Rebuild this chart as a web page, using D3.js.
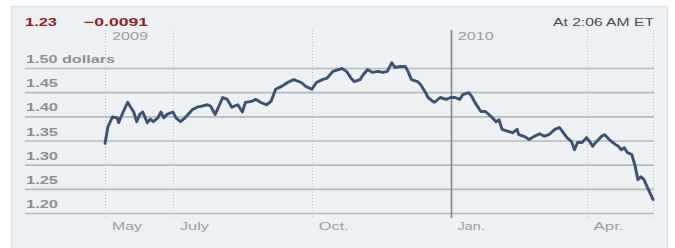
<!DOCTYPE html>
<html><head><meta charset="utf-8">
<script src="https://cdn.jsdelivr.net/npm/d3@7"></script>
<style>
html,body{margin:0;padding:0;background:#fff;}
svg{display:block;font-family:"Liberation Sans",Arial,sans-serif;}
</style></head>
<body><svg id="c" width="675" height="248"></svg>
<script>
const dates = ["2009-05-17","2009-05-19","2009-05-22","2009-05-25","2009-05-26","2009-05-29","2009-06-01","2009-06-03","2009-06-05","2009-06-07","2009-06-09","2009-06-11","2009-06-14","2009-06-16","2009-06-18","2009-06-21","2009-06-23","2009-06-25","2009-06-27","2009-07-01","2009-07-03","2009-07-06","2009-07-09","2009-07-11","2009-07-14","2009-07-17","2009-07-20","2009-07-24","2009-07-26","2009-07-28","2009-07-29","2009-08-03","2009-08-06","2009-08-09","2009-08-13","2009-08-16","2009-08-18","2009-08-22","2009-08-25","2009-08-28","2009-09-01","2009-09-04","2009-09-07","2009-09-11","2009-09-15","2009-09-19","2009-09-24","2009-09-27","2009-10-01","2009-10-04","2009-10-08","2009-10-11","2009-10-15","2009-10-21","2009-10-24","2009-10-27","2009-10-29","2009-11-02","2009-11-04","2009-11-07","2009-11-10","2009-11-14","2009-11-17","2009-11-20","2009-11-23","2009-11-25","2009-11-28","2009-12-02","2009-12-04","2009-12-06","2009-12-10","2009-12-12","2009-12-15","2009-12-17","2009-12-21","2009-12-22","2009-12-25","2009-12-29","2010-01-01","2010-01-04","2010-01-07","2010-01-09","2010-01-13","2010-01-15","2010-01-17","2010-01-21","2010-01-24","2010-01-28","2010-01-31","2010-02-02","2010-02-04","2010-02-08","2010-02-11","2010-02-14","2010-02-15","2010-02-19","2010-02-22","2010-02-25","2010-03-01","2010-03-04","2010-03-07","2010-03-11","2010-03-14","2010-03-16","2010-03-19","2010-03-22","2010-03-24","2010-03-26","2010-03-29","2010-04-01","2010-04-03","2010-04-05","2010-04-07","2010-04-11","2010-04-13","2010-04-16","2010-04-20","2010-04-22","2010-04-24","2010-04-26","2010-04-28","2010-05-01","2010-05-03","2010-05-05","2010-05-07","2010-05-09","2010-05-11","2010-05-15"];
const values = [1.345,1.38,1.40,1.398,1.388,1.41,1.43,1.42,1.41,1.39,1.405,1.41,1.388,1.395,1.39,1.398,1.41,1.398,1.405,1.41,1.398,1.39,1.398,1.405,1.415,1.42,1.422,1.425,1.422,1.41,1.405,1.44,1.436,1.42,1.425,1.41,1.43,1.432,1.436,1.43,1.425,1.432,1.457,1.463,1.471,1.477,1.471,1.463,1.457,1.471,1.477,1.48,1.494,1.50,1.494,1.48,1.473,1.477,1.487,1.498,1.492,1.494,1.492,1.494,1.512,1.502,1.504,1.504,1.492,1.477,1.473,1.467,1.452,1.44,1.43,1.432,1.44,1.436,1.44,1.44,1.436,1.446,1.45,1.442,1.43,1.411,1.411,1.40,1.39,1.394,1.374,1.37,1.367,1.374,1.363,1.359,1.353,1.359,1.365,1.36,1.363,1.374,1.378,1.37,1.357,1.349,1.332,1.347,1.347,1.357,1.349,1.339,1.347,1.36,1.363,1.353,1.343,1.339,1.332,1.336,1.326,1.322,1.30,1.27,1.276,1.27,1.256,1.229];

const yTicks = [1.50,1.45,1.40,1.35,1.30,1.25,1.20];
const yTickLabels = ["1.50 dollars","1.45","1.40","1.35","1.30","1.25","1.20"];
const xTickDates = ["2009-05-17","2009-07-01","2009-10-01","2010-01-01","2010-04-01","2010-05-15"];
const xTickLabels = ["May","July","Oct.","Jan.","Apr.",""];
const yearDates = ["2009-05-17","2010-01-01"];
const yearLabels = ["2009","2010"];
const lastValue = "1.23";
const change = "\u22120.0091";
const timestamp = "At 2:06 AM ET";

const parse = d3.timeParse("%Y-%m-%d");
const data = dates.map((d,i)=>({date:parse(d), value:values[i]}));

const svg = d3.select("#c");
const x = d3.scaleTime().domain([parse("2009-05-17"), parse("2010-05-15")]).range([105,653]);
const y = d3.scaleLinear().domain([1.20,1.50]).range([213.5,68.5]);

// panel
svg.append("rect").attr("x",11.5).attr("y",6.5).attr("width",656).attr("height",260)
  .attr("fill","#eef1f4").attr("stroke","#d9dde0").attr("stroke-width",1.2);

// horizontal gridlines
svg.append("g").selectAll("line").data(yTicks).join("line")
  .attr("x1",25).attr("x2",654).attr("y1",d=>y(d)).attr("y2",d=>y(d))
  .attr("stroke","#b5b9bc").attr("stroke-width",1.6);

// y labels
svg.append("g").selectAll("text").data(yTicks).join("text")
  .attr("x",26).attr("y",d=>y(d)-5.5)
  .attr("font-size",11.5).attr("font-weight","bold").attr("fill","#8c8f92")
  .attr("lengthAdjust","spacingAndGlyphs")
  .attr("textLength",(d,i)=> i===0 ? 89 : 32)
  .text((d,i)=>yTickLabels[i]);

// vertical tick lines
const xt = xTickDates.map((d,i)=>({date:parse(d), label:xTickLabels[i]}));
svg.append("g").selectAll("line").data(xt).join("line")
  .attr("x1",d=>Math.round(x(d.date))+0.5).attr("x2",d=>Math.round(x(d.date))+0.5)
  .attr("y1",30).attr("y2",218)
  .attr("stroke",d=>d.label==="Jan."?"#80858a":"#b8bcc0")
  .attr("stroke-width",d=>d.label==="Jan."?1.6:1)
  .attr("stroke-dasharray",d=>d.label==="Jan."?null:"1,2");

// x labels
const xLabelW = {"May":30,"July":29,"Oct.":30,"Jan.":27,"Apr.":30};
svg.append("g").selectAll("text").data(xt.filter(d=>d.label)).join("text")
  .attr("x",d=>x(d.date)+7).attr("y",230)
  .attr("font-size",11.5).attr("fill","#9a9da0")
  .attr("lengthAdjust","spacingAndGlyphs")
  .attr("textLength",d=>xLabelW[d.label])
  .text(d=>d.label);

// year labels
svg.append("g").selectAll("text").data(yearDates).join("text")
  .attr("x",d=>x(parse(d))+7).attr("y",40)
  .attr("font-size",11.5).attr("fill","#9a9da0")
  .attr("lengthAdjust","spacingAndGlyphs").attr("textLength",36)
  .text((d,i)=>yearLabels[i]);

// line
const line = d3.line().x(d=>x(d.date)).y(d=>y(d.value)).curve(d3.curveLinear);
svg.append("path").datum(data).attr("d",line)
  .attr("fill","none").attr("stroke","#3d5170").attr("stroke-width",2.9)
  .attr("stroke-linejoin","round").attr("stroke-linecap","round");

// header
svg.append("text").attr("x",25).attr("y",26).attr("font-size",11.5).attr("font-weight","bold")
  .attr("fill","#8e1f1f").attr("lengthAdjust","spacingAndGlyphs").attr("textLength",32).text(lastValue);
svg.append("text").attr("x",84).attr("y",26).attr("font-size",11.5).attr("font-weight","bold")
  .attr("fill","#8e1f1f").attr("lengthAdjust","spacingAndGlyphs").attr("textLength",64).text(change);
svg.append("text").attr("x",553).attr("y",26).attr("font-size",11.5)
  .attr("fill","#4a4d50").attr("lengthAdjust","spacingAndGlyphs").attr("textLength",101).text(timestamp);
</script>
</body></html>
